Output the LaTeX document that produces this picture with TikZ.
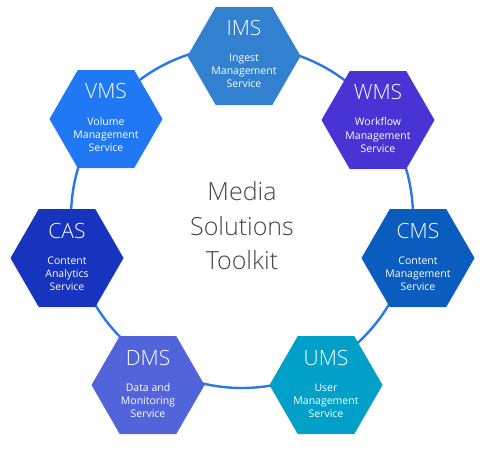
\documentclass[tikz,border=0pt]{standalone}
\usepackage{fontspec}
\setmainfont{Open Sans}
\newfontfamily\thinfont{Open Sans}[UprightFont=* Light]
\usetikzlibrary{shapes.geometric,shadows}
\definecolor{imsblue}{RGB}{50,128,208}
\definecolor{wmsblue}{RGB}{72,52,212}
\definecolor{cmsblue}{RGB}{10,92,190}
\definecolor{umsblue}{RGB}{0,160,200}
\definecolor{dmsblue}{RGB}{82,100,218}
\definecolor{casblue}{RGB}{22,52,190}
\definecolor{vmsblue}{RGB}{32,120,245}
\definecolor{ringblue}{RGB}{40,120,230}
\definecolor{titlegray}{RGB}{70,70,70}
\begin{document}
\begin{tikzpicture}[
            x=1pt, y=-1pt,
            hexa/.style={regular polygon, regular polygon sides=6, minimum size=113pt,
                inner sep=0pt, draw=none,
                drop shadow={shadow xshift=0pt, shadow yshift=-1.5pt, opacity=0.12}},
            abbr/.style={anchor=base, text=white, font=\thinfont\fontsize{21}{24}\selectfont},
            desc/.style={anchor=base, align=center, text=white, font=\fontsize{10.5}{13}\selectfont},
            ring/.style={draw=ringblue, line width=2.4pt},
            title/.style={align=center, text=titlegray, font=\thinfont\fontsize{25}{34.5}\selectfont}
        ]
            \useasboundingbox (0,0) rectangle (486,449);
            \coordinate (hub) at (242,217);
            \draw[ring] (hub) circle[radius=171];
            \node[title] (toolkit) at (242,226) {Media\\Solutions\\Toolkit};
            \foreach \name/\x/\y/\shade/\text in {
                IMS/244/56/imsblue/{Ingest\\Management\\Service},
                WMS/378/120/wmsblue/{Workflow\\Management\\Service},
                CMS/418/258/cmsblue/{Content\\Management\\Service},
                UMS/326/385/umsblue/{User\\Management\\Service},
                DMS/148/385/dmsblue/{Data and\\Monitoring\\Service},
                CAS/67/258/casblue/{Content\\Analytics\\Service},
                VMS/106/119/vmsblue/{Volume\\Management\\Service}} {
                \node[hexa, fill=\shade] (\name) at (\x,\y) {};
                \node[abbr] (\name-abbr) at ([yshift=20pt]\name.center) {\name};
                \node[desc] (\name-desc) at ([yshift=-32pt]\name.center) {\text};
            }
        \end{tikzpicture}
\end{document}
